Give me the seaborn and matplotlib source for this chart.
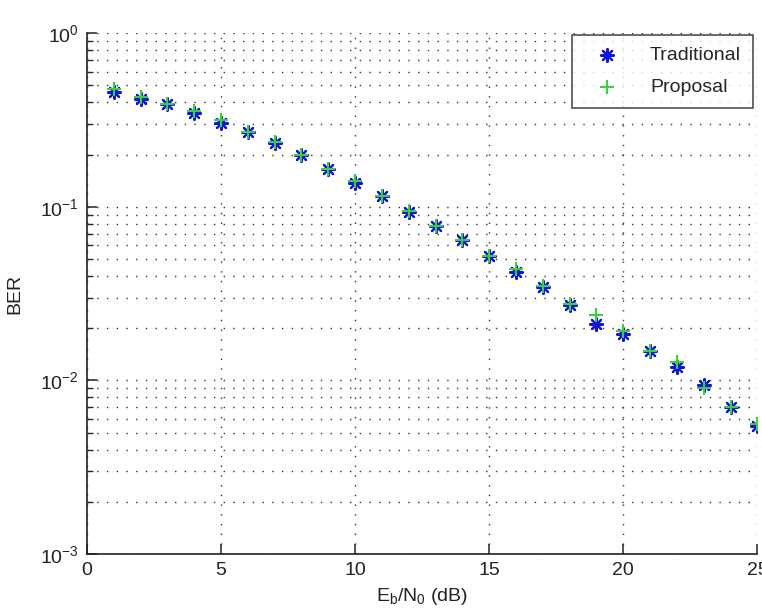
import matplotlib
matplotlib.use("Agg")
import matplotlib.pyplot as plt
import matplotlib.ticker as mticker
import seaborn as sns
import numpy as np

snr_db = [1, 2, 3, 4, 5, 6, 7, 8, 9, 10, 11, 12, 13, 14, 15, 16, 17, 18, 19, 20, 21, 22, 23, 24, 25]
ber_traditional = [0.46, 0.42, 0.39, 0.345, 0.305, 0.27, 0.232, 0.198, 0.166, 0.137,
                   0.115, 0.094, 0.078, 0.064, 0.052, 0.042, 0.0345, 0.0271, 0.0212, 0.0186,
                   0.0148, 0.0119, 0.0094, 0.0070, 0.0055]
ber_proposal = [0.475, 0.43, 0.39, 0.355, 0.315, 0.27, 0.235, 0.2, 0.166, 0.14,
                0.115, 0.095, 0.078, 0.064, 0.052, 0.044, 0.035, 0.0275, 0.0237, 0.0194,
                0.0148, 0.0128, 0.0091, 0.0070, 0.0056]
series_names = ["Traditional", "Proposal"]
x_ticks = [0, 5, 10, 15, 20, 25]

sns.set_theme(style="white")
plt.rcParams['font.family'] = ['Liberation Sans', 'DejaVu Sans']
plt.rcParams['mathtext.fontset'] = 'custom'
plt.rcParams['mathtext.rm'] = 'Liberation Sans'
plt.rcParams['mathtext.default'] = 'regular'
plt.rcParams['axes.unicode_minus'] = False

fig = plt.figure(figsize=(7.62, 6.15), dpi=100)
ax = fig.add_axes([0.114, 0.099, 0.880, 0.847])

sns.scatterplot(x=snr_db, y=ber_traditional, ax=ax, marker=(8, 2, 0), s=85,
                color="#1414d8", linewidth=1.6, label=series_names[0], zorder=3)
sns.scatterplot(x=snr_db, y=ber_proposal, ax=ax, marker="+", s=100,
                color="#3ccf3c", linewidth=1.5, label=series_names[1], zorder=4)

ax.set_yscale("log")
ax.set_xlim(0, 25)
ax.set_ylim(1e-3, 1)
ax.set_xticks(x_ticks)
ax.yaxis.set_major_locator(mticker.LogLocator(base=10, numticks=10))
ax.yaxis.set_minor_locator(mticker.LogLocator(base=10, subs=np.arange(2, 10), numticks=20))
ax.yaxis.set_minor_formatter(mticker.NullFormatter())

dots = (0, (1, 6))
ax.grid(True, which="major", axis="both", linestyle=dots, color="#333333", linewidth=1.0)
ax.grid(True, which="minor", axis="y", linestyle=dots, color="#333333", linewidth=1.0)

for side in ["top", "right"]:
    ax.spines[side].set_visible(False)
for side in ["left", "bottom"]:
    ax.spines[side].set_color("#222222")
    ax.spines[side].set_linewidth(1.2)

ax.tick_params(axis="both", which="major", direction="in", length=7, width=1.1,
               labelsize=14, colors="#222222", pad=6)
ax.tick_params(axis="y", which="minor", direction="in", length=4, width=1.0, left=True)
ax.tick_params(axis="both", which="both", left=True, bottom=True)

ax.set_xlabel(r"E$_{\rm b}$/N$_{\rm 0}$ (dB)", fontsize=14, color="#222222", labelpad=5)
ax.set_ylabel("BER", fontsize=14, color="#222222", labelpad=12)

leg = ax.legend(loc="upper right", fontsize=14, frameon=True, fancybox=False,
                edgecolor="#222222", borderpad=0.6, handletextpad=1.0,
                handlelength=2.4, bbox_to_anchor=(0.993, 0.997),
                labelspacing=0.75, borderaxespad=0.0)
leg.get_frame().set_linewidth(1.2)

fig.savefig("out.png", dpi=100)
